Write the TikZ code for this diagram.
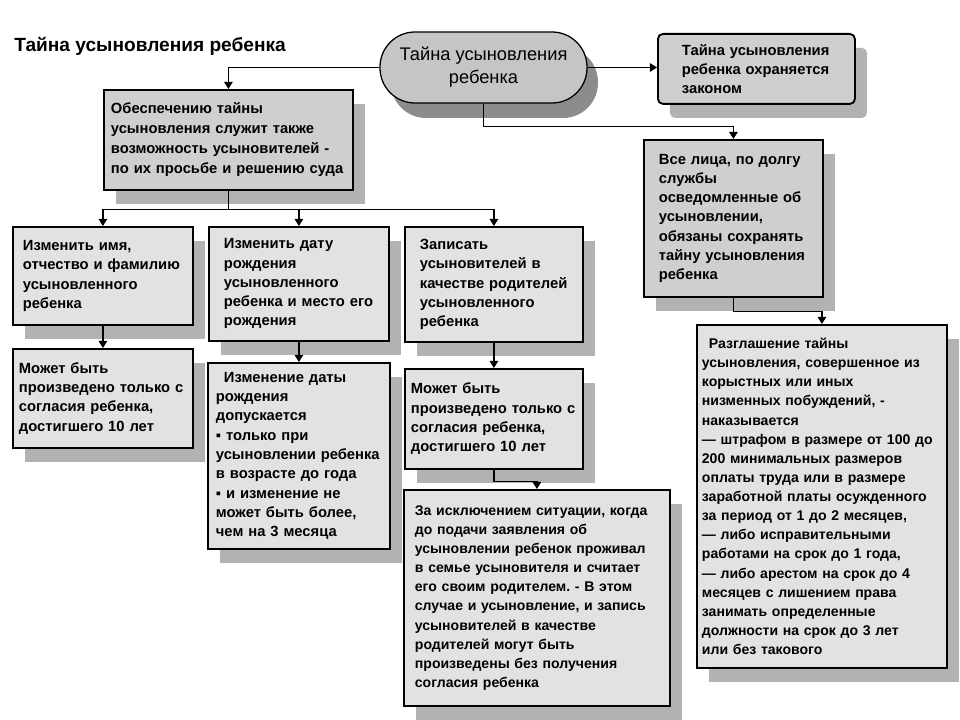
\documentclass[tikz,border=0pt]{standalone}
\usepackage{fontspec}
\setmainfont{Liberation Sans}
\usetikzlibrary{arrows.meta}
\usetikzlibrary{shadows}
\frenchspacing
\newdimen\pxu \pxu=0.025cm
\definecolor{boxlight}{HTML}{E2E2E2}
\definecolor{boxdark}{HTML}{CFCFCF}
\definecolor{ovalfill}{HTML}{C5C5C5}
\definecolor{shade}{HTML}{B2B2B2}
\definecolor{ovalshade}{HTML}{8C8C8C}
\newcommand{\boxfont}{\fontsize{10.5}{13.7}\selectfont\bfseries}
\newcommand{\smallboxfont}{\fontsize{10}{13.6}\selectfont\bfseries}
\newcommand{\guardfont}{\fontsize{10.5}{14.2}\selectfont\bfseries}
\newcommand{\ovalfont}{\fontsize{13}{16.4}\selectfont}
\newcommand{\headfont}{\fontsize{13.6}{17}\selectfont\bfseries}
\tikzstyle{block} = [rectangle, draw, line width=1.3pt, fill=boxlight,
anchor=north west, align=left, inner ysep=0pt, font=\boxfont,
drop shadow={shadow xshift=12\pxu, shadow yshift=-14\pxu, opacity=1, fill=shade}]
\tikzstyle{darkblock} = [block, fill=boxdark]
\tikzstyle{ovalblock} = [rectangle, draw, line width=0.9pt, fill=ovalfill,
rounded corners=35\pxu, minimum width=207\pxu, minimum height=71\pxu,
align=center, font=\ovalfont,
drop shadow={shadow xshift=11\pxu, shadow yshift=-15\pxu, opacity=1, fill=ovalshade}]
\tikzstyle{conn} = [draw, line width=0.9pt, -{Triangle[width=6pt,length=5pt]}]

\begin{document}
\begin{tikzpicture}[x=0.025cm, y=-0.025cm]
\useasboundingbox (0,0) rectangle (960,720);
\node [anchor=base west, inner sep=0pt, font=\headfont] (title) at (14,52) {Тайна усыновления ребенка};
\node [ovalblock] (secret) at (483.5,67.5) {Тайна усыновления\\ребенка};
\node [darkblock, rounded corners=5\pxu, text width=149\pxu, inner xsep=24\pxu, minimum height=70\pxu] (law) at (657,33) {Тайна усыновления\\ребенка охраняется\\законом};
\node [darkblock, text width=235\pxu, inner xsep=7\pxu, minimum height=100\pxu, font=\guardfont] (guard) at (103,89) {Обеспечению тайны\\усыновления служит также\\возможность усыновителей -\\по их просьбе и решению суда};
\node [darkblock, text width=149\pxu, inner xsep=15\pxu, minimum height=157\pxu] (duty) at (643,139) {Все лица, по долгу\\службы\\осведомленные об\\усыновлении,\\обязаны сохранять\\тайну усыновления\\ребенка};
% three ways to keep the secret
\node [block, text width=160\pxu, inner xsep=10\pxu, minimum height=98\pxu] (rename) at (12,226) {Изменить имя,\\отчество и фамилию\\усыновленного\\ребенка};
\node [block, text width=150\pxu, inner xsep=15\pxu, minimum height=114\pxu] (redate) at (208,226) {Изменить дату\\рождения\\усыновленного\\ребенка и место его\\рождения};
\node [block, text width=148\pxu, inner xsep=15\pxu, minimum height=115\pxu] (record) at (404,226) {Записать\\усыновителей в\\качестве родителей\\усыновленного\\ребенка};
\node [block, text width=168\pxu, inner xsep=6\pxu, minimum height=99\pxu] (consentA) at (12,348) {Может быть\\произведено только с\\согласия ребенка,\\достигшего 10 лет};
\node [block, text width=166\pxu, inner xsep=8\pxu, minimum height=186\pxu] (datelimit) at (207,362) {\hspace*{8\pxu}Изменение даты\\рождения\\допускается\\▪ только при\\усыновлении ребенка\\в возрасте до года\\▪ и изменение не\\может быть более,\\чем на 3 месяца};
\node [block, text width=166\pxu, inner xsep=6\pxu, minimum height=100\pxu] (consentB) at (404,368) {Может быть\\произведено только с\\согласия ребенка,\\достигшего 10 лет};
\node [block, text width=244\pxu, inner xsep=11\pxu, minimum height=216\pxu, font=\smallboxfont] (exception) at (403,489) {За исключением ситуации, когда\\до подачи заявления об\\усыновлении ребенок проживал\\в семье усыновителя и считает\\его своим родителем. - В этом\\случае и усыновление, и запись\\усыновителей в качестве\\родителей могут быть\\произведены без получения\\согласия ребенка};
\node [block, text width=240\pxu, inner xsep=5\pxu, minimum height=343\pxu, font=\smallboxfont] (penalty) at (696,324) {\hspace*{7\pxu}Разглашение тайны\\усыновления, совершенное из\\корыстных или иных\\низменных побуждений, -\\наказывается\\— штрафом в размере от 100 до\\200 минимальных размеров\\оплаты труда или в размере\\заработной платы осужденного\\за период от 1 до 2 месяцев,\\— либо исправительными\\работами на срок до 1 года,\\— либо арестом на срок до 4\\месяцев с лишением права\\занимать определенные\\должности на срок до 3 лет\\или без такового};
% connectors
\path [conn] (secret.west) -| (guard.north);
\path [conn] (secret.east) -- (secret.east -| law.west);
\path [conn] (secret.south) -- ++(0,23) -| (duty.north);
\draw [line width=0.9pt] (guard.south) -- ++(0,19) coordinate (fork);
\path [conn] (fork) -| (rename.north);
\path [conn] (fork) -| (redate.north);
\path [conn] (fork) -| (record.north);
\path [conn] (rename.south) -- (consentA.north);
\path [conn] (redate.south) -- (datelimit.north);
\path [conn] (record.south) -- (consentB.north);
\path [conn] (consentB.south) -- ++(0,12) -| (exception.north);
\path [conn] (duty.south) -- ++(0,14) -| (penalty.north);
\end{tikzpicture}
\end{document}
